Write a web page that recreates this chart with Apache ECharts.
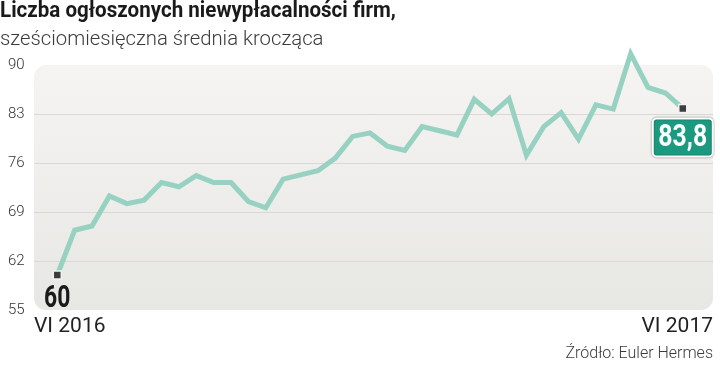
<!DOCTYPE html>
<html>
<head>
<meta charset="utf-8">
<script src="https://cdn.jsdelivr.net/npm/echarts@6/dist/echarts.min.js"></script>
<style>
html,body{margin:0;padding:0;background:#fff;}
#c{width:720px;height:366px;}
</style>
</head>
<body>
<div id="c"></div>
<script>
var titleText = 'Liczba ogłoszonych niewypłacalności firm,';
var subtitleText = 'sześciomiesięczna średnia krocząca';
var sourceText = 'Źródło: Euler Hermes';
var xLabels = ['VI 2016', 'VI 2017'];
var yTicks = [55, 62, 69, 76, 83, 90];
var values = [60, 66.4, 67.0, 71.3, 70.2, 70.7, 73.2, 72.6, 74.2, 73.2, 73.2, 70.5, 69.6,
  73.7, 74.3, 74.9, 76.7, 79.8, 80.3, 78.4, 77.8, 81.2, 80.6, 80.0, 85.1, 83.0, 85.2,
  77.1, 81.2, 83.2, 79.4, 84.3, 83.7, 91.6, 86.8, 86.0, 83.8];

var chart = echarts.init(document.getElementById('c'), null, {renderer: 'canvas'});
var last = values.length - 1;
var fmt = function (v) { return String(v).replace('.', ','); };
var seriesData = values.map(function (v, i) {
  var item = {value: [i, v]};
  if (i === 0 || i === last) {
    item.symbol = 'rect';
    item.symbolSize = 8;
  }
  return item;
});

var baseGraphics = [
  {type: 'rect', z: -10, silent: true,
   shape: {x: 34, y: 65, width: 679, height: 245, r: 12},
   style: {fill: {type: 'linear', x: 0, y: 0, x2: 0, y2: 1,
     colorStops: [{offset: 0, color: '#f5f4f2'}, {offset: 1, color: '#e7e7e4'}]}}},
  {type: 'text', x: 0, y: 11, scaleX: 0.935,
   style: {text: titleText, x: 0, y: 0, font: 'bold 22px Roboto', fill: '#1a1a1a', textVerticalAlign: 'middle'}},
  {type: 'text', left: 0, top: 30,
   style: {text: subtitleText, font: '300 20.3px Roboto', fill: '#3a3a3a'}},
  {type: 'text', left: 34, top: 316,
   style: {text: xLabels[0], font: '21px Roboto', fill: '#222'}},
  {type: 'text', right: 7, top: 316,
   style: {text: xLabels[1], font: '21px Roboto', fill: '#222', textAlign: 'right'}},
  {type: 'text', right: 7, top: 346,
   style: {text: sourceText, font: '300 16px Roboto', fill: '#3a3a3a', textAlign: 'right'}}
];

chart.setOption({
  animation: false,
  grid: {left: 34, right: 7, top: 65, bottom: 56},
  graphic: baseGraphics,
  xAxis: {
    type: 'value', min: -1.34, max: 37.74, show: false
  },
  yAxis: {
    type: 'value', min: yTicks[0], max: yTicks[yTicks.length - 1], interval: 7,
    axisLine: {show: false}, axisTick: {show: false},
    axisLabel: {align: 'left', margin: 26, fontFamily: 'Roboto', fontWeight: 300, fontSize: 15, color: '#333'},
    splitLine: {show: true, showMinLine: false, showMaxLine: false, lineStyle: {color: '#d9d8d4', width: 1}}
  },
  series: [{
    type: 'line', data: seriesData, clip: false,
    symbol: 'none', showSymbol: true,
    lineStyle: {color: '#97d1c1', width: 5, join: 'miter'},
    itemStyle: {color: '#3d3d3d', borderColor: '#f2f2f2', borderWidth: 1.5},
    emphasis: {disabled: true},
    z: 3
  }]
});

// end-point value labels, positioned through the chart's own scales
var p0 = chart.convertToPixel({gridIndex: 0}, [0, values[0]]);
var pL = chart.convertToPixel({gridIndex: 0}, [last, values[last]]);
var labelFont = 'bold 31px Roboto';
var boxW = 60, boxH = 38;
chart.setOption({
  graphic: baseGraphics.concat([
    {type: 'text', x: p0[0], y: p0[1] + 24, scaleX: 0.74, z: 20,
     style: {text: fmt(values[0]), x: 0, y: 0, font: labelFont, fill: '#1a1a1a',
       textAlign: 'center', textVerticalAlign: 'middle'}},
    {type: 'rect', z: 20,
     shape: {x: pL[0] - boxW / 2, y: pL[1] + 10, width: boxW, height: boxH, r: 4},
     style: {fill: '#1c9a7f', stroke: '#ffffff', lineWidth: 2,
       shadowColor: 'rgba(0,0,0,0.45)', shadowBlur: 2}},
    {type: 'text', x: pL[0], y: pL[1] + 10 + boxH / 2 + 1, scaleX: 0.8, z: 21,
     style: {text: fmt(values[last]), x: 0, y: 0, font: labelFont, fill: '#ffffff',
       textAlign: 'center', textVerticalAlign: 'middle'}}
  ])
});
</script>
</body>
</html>
